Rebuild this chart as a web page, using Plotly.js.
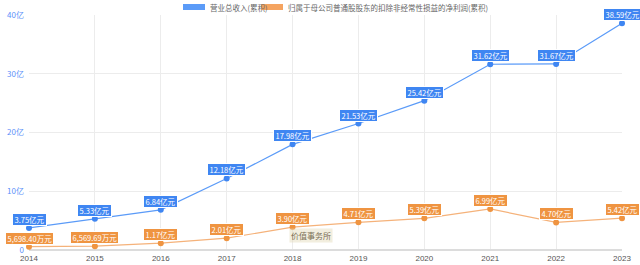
<!DOCTYPE html>
<html>
<head>
<meta charset="utf-8">
<script src="https://cdn.plot.ly/plotly-3.0.1.min.js"></script>
<style>html,body{margin:0;padding:0;background:#fff;}#chart{width:640px;height:265px;}</style>
</head>
<body>
<div id="chart"></div>
<script>
const years = [2014, 2015, 2016, 2017, 2018, 2019, 2020, 2021, 2022, 2023];
const revenue = [3.75, 5.33, 6.84, 12.18, 17.98, 21.53, 25.42, 31.62, 31.67, 38.59];
const revenueLabels = ['3.75亿元','5.33亿元','6.84亿元','12.18亿元','17.98亿元','21.53亿元','25.42亿元','31.62亿元','31.67亿元','38.59亿元'];
const profit = [0.569840, 0.656969, 1.17, 2.01, 3.90, 4.71, 5.39, 6.99, 4.70, 5.42];
const profitLabels = ['5,698.40万元','6,569.69万元','1.17亿元','2.01亿元','3.90亿元','4.71亿元','5.39亿元','6.99亿元','4.70亿元','5.42亿元'];
const seriesNames = ['营业总收入(累积)', '归属于母公司普通股股东的扣除非经常性损益的净利润(累积)'];
const yTickVals = [0, 10, 20, 30, 40];
const yTickText = ['0', '10亿', '20亿', '30亿', '40亿'];

const blue = '#5b9bf8', blueDark = '#3f86f2';
const orange = '#f5b27a', orangeDark = '#ef9441';

const traces = [
  {x: years, y: revenue, name: seriesNames[0], type: 'scatter', mode: 'lines+markers',
   line: {color: blue, width: 1.2}, marker: {color: blueDark, size: 6}, showlegend: false, cliponaxis: false},
  {x: years, y: profit, name: seriesNames[1], type: 'scatter', mode: 'lines+markers',
   line: {color: orange, width: 1.2}, marker: {color: orangeDark, size: 6}, showlegend: false, cliponaxis: false}
];

const annotations = [];
function addLabels(vals, labels, bg) {
  vals.forEach((v, i) => {
    annotations.push({x: years[i], y: v, xref: 'x', yref: 'y', text: '\u2009' + labels[i] + '\u2009', showarrow: false,
      yanchor: 'bottom', yshift: 2, font: {family: 'Noto Sans CJK SC, sans-serif', size: 7.5, color: '#fff'},
      bgcolor: bg, bordercolor: '#ffffff', borderwidth: 1, borderpad: 0});
  });
}
addLabels(revenue, revenueLabels, blueDark);
addLabels(profit, profitLabels, orangeDark);

// legend text
annotations.push({xref: 'paper', yref: 'paper', x: 0.3019, y: 1.034, xanchor: 'left', yanchor: 'middle',
  text: seriesNames[0], showarrow: false, font: {family: 'Noto Sans CJK SC, sans-serif', size: 7.5, color: '#666'}});
annotations.push({xref: 'paper', yref: 'paper', x: 0.4334, y: 1.034, xanchor: 'left', yanchor: 'middle',
  text: seriesNames[1], showarrow: false, font: {family: 'Noto Sans CJK SC, sans-serif', size: 7.5, color: '#666'}});
// watermark
annotations.push({xref: 'paper', yref: 'paper', x: 0.475, y: 0.06, xanchor: 'center', yanchor: 'middle',
  text: '价值事务所', showarrow: false, font: {family: 'Noto Sans CJK SC, sans-serif', size: 8, color: '#5a4a2a'},
  bgcolor: 'rgba(230,220,190,0.6)', opacity: 0.8});

const layout = {
  width: 640, height: 265,
  margin: {l: 29, r: 18, t: 15, b: 15},
  paper_bgcolor: '#fff', plot_bgcolor: '#fff',
  showlegend: false,
  xaxis: {range: [2014, 2023], tickvals: years, ticktext: years.map(String),
    showgrid: true, gridcolor: '#ececec', gridwidth: 1, zeroline: false,
    showline: false, ticks: '', tickfont: {family: 'Liberation Sans, Arial, sans-serif', size: 8, color: '#555'},
    ticklabelstandoff: 2, fixedrange: true},
  yaxis: {range: [0, 40], tickvals: yTickVals, ticktext: yTickText,
    showgrid: true, gridcolor: '#ececec', gridwidth: 1, zeroline: true, zerolinecolor: '#dcdcdc', zerolinewidth: 2,
    showline: false, ticks: '', tickfont: {family: 'Noto Sans CJK SC, sans-serif', size: 8, color: '#5b8ff9'},
    ticklabelstandoff: 4, fixedrange: true},
  shapes: [
    {type: 'rect', xref: 'paper', yref: 'paper', x0: 0.2597, x1: 0.2968, y0: 1.0213, y1: 1.0468,
     fillcolor: '#5b9bf8', line: {width: 0}},
    {type: 'rect', xref: 'paper', yref: 'paper', x0: 0.3912, x1: 0.4283, y0: 1.0213, y1: 1.0468,
     fillcolor: '#f5a460', line: {width: 0}}
  ],
  annotations: annotations
};

Plotly.newPlot('chart', traces, layout, {staticPlot: true, displayModeBar: false});
</script>
</body>
</html>
